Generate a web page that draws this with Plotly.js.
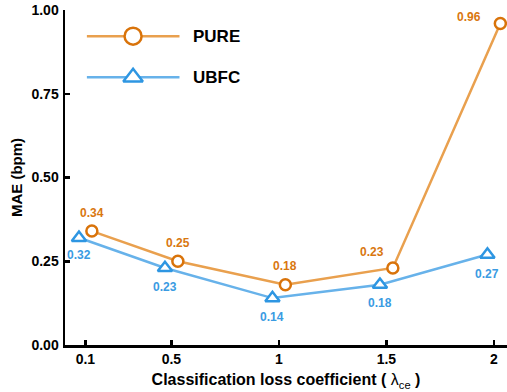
<!DOCTYPE html>
<html>
<head>
<meta charset="utf-8">
<script src="https://cdn.plot.ly/plotly-3.0.1.min.js"></script>
<style>html,body{margin:0;padding:0;background:#fff}#chart{width:507px;height:392px}</style>
</head>
<body>
<div id="chart"></div>
<script>
// ---- data ----
const coefficients = [0.1, 0.5, 1, 1.5, 2];
const coefficientLabels = ['0.1', '0.5', '1', '1.5', '2'];
const pureMAE = [0.34, 0.25, 0.18, 0.23, 0.96];
const ubfcMAE = [0.32, 0.23, 0.14, 0.18, 0.27];
const yTickVals = [0, 0.25, 0.5, 0.75, 1];
const yTickText = ['0.00', '0.25', '0.50', '0.75', '1.00'];
const seriesNames = ['PURE', 'UBFC'];

// ---- style ----
const FONT = 'Liberation Sans, Arial, sans-serif';
const pureLine = '#E9A04E', pureMarker = '#D9730A', pureText = '#D9770F';
const ubfcLine = '#67B2EA', ubfcMarker = '#2E96E2', ubfcText = '#3A9BE2';
const dodge = 0.03;
const pureShift = [[0, 18], [0, 18], [0, 19], [-21, 16], [-31, 6]];
const ubfcShift = [[0, -17], [0, -19], [0, -19], [0, -18], [0, -19]];

const pureX = coefficients.map(v => v + dodge);
const ubfcX = coefficients.map(v => v - dodge);

const traces = [
  {
    x: ubfcX, y: ubfcMAE, type: 'scatter', mode: 'lines+markers', name: seriesNames[1],
    line: {color: ubfcLine, width: 2.5},
    marker: {symbol: 'triangle-up', size: 12.5, color: '#fff', line: {color: ubfcMarker, width: 2.5}},
    cliponaxis: false, showlegend: false
  },
  {
    x: pureX, y: pureMAE, type: 'scatter', mode: 'lines+markers', name: seriesNames[0],
    line: {color: pureLine, width: 2.5},
    marker: {symbol: 'circle', size: 11, color: '#fff', line: {color: pureMarker, width: 2.5}},
    cliponaxis: false, showlegend: false
  },
  // legend markers on overlay axes
  {
    x: [0.154], y: [0.922], xaxis: 'x2', yaxis: 'y2', type: 'scatter', mode: 'markers',
    marker: {symbol: 'circle', size: 17, color: '#fff', line: {color: pureMarker, width: 2.5}},
    cliponaxis: false, showlegend: false, hoverinfo: 'skip'
  },
  {
    x: [0.154], y: [0.799], xaxis: 'x2', yaxis: 'y2', type: 'scatter', mode: 'markers',
    marker: {symbol: 'triangle-up', size: 17, color: '#fff', line: {color: ubfcMarker, width: 2.5}},
    cliponaxis: false, showlegend: false, hoverinfo: 'skip'
  }
];

const annotations = [];
coefficients.forEach((c, i) => {
  annotations.push({
    x: pureX[i], y: pureMAE[i], text: '<b>' + pureMAE[i].toFixed(2) + '</b>', showarrow: false,
    xshift: pureShift[i][0], yshift: pureShift[i][1],
    font: {family: FONT, size: 12, color: pureText}
  });
  annotations.push({
    x: ubfcX[i], y: ubfcMAE[i], text: '<b>' + ubfcMAE[i].toFixed(2) + '</b>', showarrow: false,
    xshift: ubfcShift[i][0], yshift: ubfcShift[i][1],
    font: {family: FONT, size: 12, color: ubfcText}
  });
});
annotations.push({xref: 'paper', yref: 'paper', x: 0.286, y: 0.922, xanchor: 'left', yanchor: 'middle',
  text: '<b>' + seriesNames[0] + '</b>', showarrow: false, font: {family: FONT, size: 17, color: '#000'}});
annotations.push({xref: 'paper', yref: 'paper', x: 0.286, y: 0.799, xanchor: 'left', yanchor: 'middle',
  text: '<b>' + seriesNames[1] + '</b>', showarrow: false, font: {family: FONT, size: 17, color: '#000'}});

const shapes = [
  {type: 'line', xref: 'paper', yref: 'paper', x0: 0.0495, x1: 0.259, y0: 0.922, y1: 0.922,
   line: {color: pureLine, width: 2.5}, layer: 'below'},
  {type: 'line', xref: 'paper', yref: 'paper', x0: 0.0495, x1: 0.259, y0: 0.799, y1: 0.799,
   line: {color: ubfcLine, width: 2.5}, layer: 'below'}
];

const layout = {
  width: 507, height: 392,
  margin: {l: 65, r: 0, t: 10, b: 47},
  paper_bgcolor: '#fff', plot_bgcolor: '#fff',
  font: {family: FONT, color: '#000'},
  showlegend: false,
  xaxis: {
    range: [0.005, 2.061], tickvals: coefficients, ticktext: coefficientLabels,
    showgrid: false, zeroline: false, showline: true, linecolor: '#000', linewidth: 2.5,
    ticks: 'inside', ticklen: 5, tickwidth: 2.5, tickcolor: '#000',
    tickfont: {family: FONT, size: 14, color: '#000', weight: 'bold'},
    title: {text: '<b>Classification loss coefficient ( </b><span style="font-weight:normal">λ<sub>ce</sub></span><b> )</b>',
            font: {family: FONT, size: 16, color: '#000'}, standoff: 8},
    fixedrange: true
  },
  yaxis: {
    range: [0, 1], tickvals: yTickVals, ticktext: yTickText,
    showgrid: false, zeroline: false, showline: true, linecolor: '#000', linewidth: 2.5,
    ticks: 'inside', ticklen: 5, tickwidth: 2.5, tickcolor: '#000', ticklabelstandoff: 1,
    tickfont: {family: FONT, size: 14, color: '#000', weight: 'bold'},
    title: {text: '<b>MAE (bpm)</b>', font: {family: FONT, size: 15, color: '#000'}, standoff: 5},
    fixedrange: true
  },
  xaxis2: {overlaying: 'x', range: [0, 1], visible: false, fixedrange: true},
  yaxis2: {overlaying: 'y', range: [0, 1], visible: false, fixedrange: true},
  annotations: annotations,
  shapes: shapes
};

Plotly.newPlot('chart', traces, layout, {displayModeBar: false, staticPlot: true});
</script>
</body>
</html>
